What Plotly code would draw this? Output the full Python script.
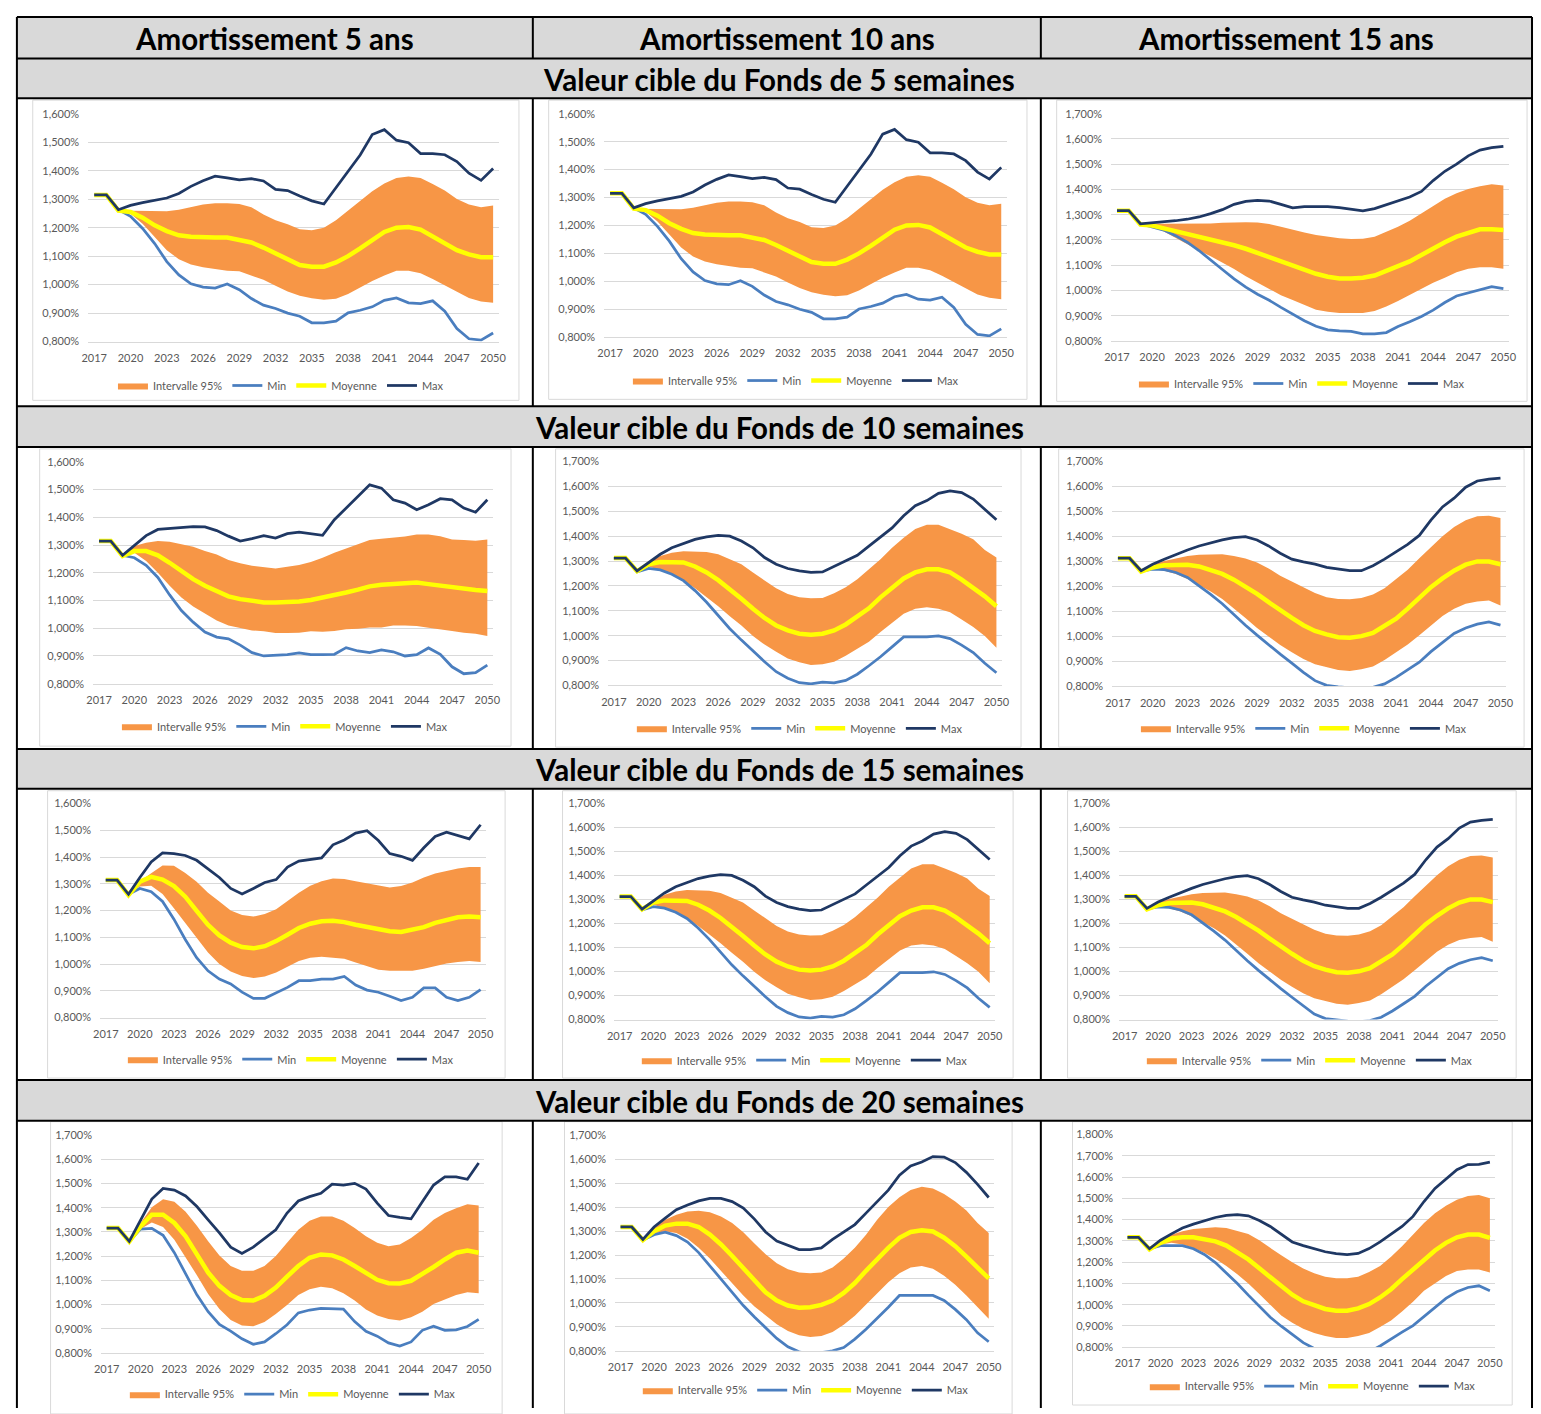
import plotly.graph_objects as go

W, H = 1541, 1414

# ---------------------------------------------------------------- data
YEARS = list(range(2017, 2051))
BAND_YEARS = YEARS[2:]          # the 95% interval starts in 2019
X_TICKS = YEARS[::3]

COLUMN_TITLES = ["Amortissement 5 ans", "Amortissement 10 ans", "Amortissement 15 ans"]
ROW_TITLES = [
    "Valeur cible du Fonds de 5 semaines",
    "Valeur cible du Fonds de 10 semaines",
    "Valeur cible du Fonds de 15 semaines",
    "Valeur cible du Fonds de 20 semaines",
]
SERIES_NAMES = ["Intervalle 95%", "Min", "Moyenne", "Max"]

# 5 semaines / 5 ans and 10 ans
A_MAX = [1.315, 1.315, 1.263, 1.278, 1.288, 1.297, 1.304, 1.320, 1.345, 1.365, 1.381, 1.375, 1.368, 1.372, 1.364, 1.334, 1.330,
         1.311, 1.294, 1.283, 1.341, 1.397, 1.455, 1.527, 1.544, 1.507, 1.498, 1.460, 1.460, 1.456, 1.432, 1.391, 1.366, 1.408]
A_MIN = [1.315, 1.315, 1.263, 1.240, 1.197, 1.144, 1.081, 1.034, 1.003, 0.991, 0.988, 1.002, 0.982, 0.951, 0.928, 0.916, 0.900,
         0.889, 0.866, 0.866, 0.872, 0.901, 0.910, 0.922, 0.945, 0.953, 0.936, 0.933, 0.943, 0.907, 0.846, 0.810, 0.805, 0.830]
A_MEAN = [1.315, 1.315, 1.260, 1.255, 1.235, 1.208, 1.188, 1.173, 1.168, 1.165, 1.165, 1.165, 1.158, 1.148, 1.130, 1.110, 1.089,
          1.069, 1.063, 1.063, 1.078, 1.100, 1.127, 1.158, 1.185, 1.200, 1.202, 1.193, 1.170, 1.144, 1.121, 1.106, 1.096, 1.096]
A_UP = [1.260, 1.260, 1.260, 1.258, 1.258, 1.263, 1.272, 1.281, 1.286, 1.286, 1.283, 1.272, 1.246, 1.226, 1.212, 1.194,
        1.191, 1.200, 1.226, 1.260, 1.295, 1.328, 1.355, 1.374, 1.380, 1.374, 1.353, 1.330, 1.301, 1.281, 1.272, 1.278]
A_LO = [1.260, 1.249, 1.214, 1.168, 1.121, 1.089, 1.071, 1.061, 1.055, 1.049, 1.047, 1.031, 1.017, 0.996, 0.976, 0.961,
        0.952, 0.947, 0.950, 0.967, 0.990, 1.013, 1.032, 1.049, 1.049, 1.040, 1.020, 0.997, 0.976, 0.953, 0.941, 0.936]

# 5 semaines / 15 ans
B_MAX = [1.316, 1.316, 1.264, 1.267, 1.272, 1.276, 1.282, 1.291, 1.304, 1.320, 1.341, 1.353, 1.357, 1.354, 1.341, 1.327, 1.332,
         1.332, 1.332, 1.328, 1.320, 1.315, 1.324, 1.340, 1.354, 1.370, 1.392, 1.435, 1.472, 1.500, 1.533, 1.556, 1.566, 1.571]
B_MIN = [1.316, 1.316, 1.264, 1.252, 1.239, 1.217, 1.191, 1.158, 1.122, 1.083, 1.046, 1.013, 0.985, 0.961, 0.933, 0.906, 0.880,
         0.858, 0.844, 0.840, 0.838, 0.828, 0.828, 0.833, 0.857, 0.876, 0.897, 0.922, 0.952, 0.978, 0.991, 1.004, 1.015, 1.007]
B_MEAN = [1.316, 1.316, 1.261, 1.257, 1.246, 1.235, 1.226, 1.216, 1.204, 1.193, 1.179, 1.165, 1.148, 1.131, 1.114, 1.096, 1.080,
          1.066, 1.054, 1.047, 1.047, 1.050, 1.059, 1.076, 1.096, 1.115, 1.141, 1.167, 1.191, 1.213, 1.229, 1.242, 1.242, 1.239]
B_UP = [1.261, 1.265, 1.264, 1.264, 1.264, 1.264, 1.265, 1.268, 1.270, 1.270, 1.269, 1.263, 1.252, 1.239, 1.229, 1.220,
        1.213, 1.207, 1.204, 1.205, 1.213, 1.233, 1.252, 1.276, 1.304, 1.334, 1.363, 1.385, 1.402, 1.413, 1.421, 1.416]
B_LO = [1.261, 1.252, 1.233, 1.207, 1.183, 1.158, 1.135, 1.111, 1.085, 1.056, 1.030, 1.007, 0.981, 0.962, 0.942, 0.923,
        0.915, 0.911, 0.911, 0.911, 0.918, 0.936, 0.958, 0.982, 1.008, 1.030, 1.050, 1.072, 1.086, 1.092, 1.092, 1.086]

# 10 semaines / 5 ans
C_MAX = [1.314, 1.314, 1.263, 1.298, 1.334, 1.356, 1.359, 1.364, 1.366, 1.365, 1.352, 1.332, 1.314, 1.323, 1.334, 1.325, 1.341,
         1.346, 1.341, 1.335, 1.391, 1.433, 1.475, 1.517, 1.505, 1.463, 1.451, 1.427, 1.445, 1.467, 1.463, 1.433, 1.418, 1.463]
C_MIN = [1.314, 1.314, 1.263, 1.254, 1.227, 1.183, 1.120, 1.064, 1.022, 0.986, 0.968, 0.962, 0.939, 0.912, 0.900, 0.903, 0.905,
         0.911, 0.905, 0.905, 0.906, 0.930, 0.918, 0.912, 0.922, 0.915, 0.900, 0.905, 0.929, 0.906, 0.861, 0.836, 0.840, 0.867]
C_MEAN = [1.314, 1.314, 1.260, 1.278, 1.278, 1.263, 1.236, 1.207, 1.177, 1.153, 1.132, 1.115, 1.105, 1.097, 1.093, 1.093, 1.093,
          1.096, 1.102, 1.110, 1.117, 1.129, 1.139, 1.151, 1.157, 1.161, 1.165, 1.165, 1.159, 1.153, 1.148, 1.144, 1.138, 1.134]
C_UP = [1.260, 1.296, 1.308, 1.314, 1.312, 1.302, 1.294, 1.278, 1.266, 1.246, 1.234, 1.225, 1.219, 1.215, 1.222, 1.228,
        1.239, 1.254, 1.272, 1.287, 1.302, 1.318, 1.323, 1.326, 1.331, 1.338, 1.338, 1.332, 1.320, 1.318, 1.315, 1.320]
C_LO = [1.260, 1.272, 1.242, 1.200, 1.153, 1.111, 1.078, 1.052, 1.028, 1.010, 1.000, 0.992, 0.989, 0.983, 0.983, 0.984,
        0.989, 0.987, 0.990, 0.996, 0.998, 1.003, 1.003, 1.010, 1.010, 1.008, 1.002, 0.997, 0.990, 0.984, 0.980, 0.972]

# 10 and 15 semaines / 10 ans
D_MAX = [1.312, 1.312, 1.260, 1.294, 1.327, 1.353, 1.371, 1.387, 1.397, 1.403, 1.400, 1.380, 1.353, 1.314, 1.287, 1.270, 1.260,
         1.254, 1.256, 1.278, 1.300, 1.323, 1.360, 1.397, 1.433, 1.482, 1.522, 1.543, 1.572, 1.582, 1.575, 1.549, 1.509, 1.466]
D_MIN = [1.312, 1.312, 1.256, 1.270, 1.264, 1.247, 1.221, 1.181, 1.134, 1.081, 1.028, 0.982, 0.938, 0.895, 0.855, 0.829, 0.811,
         0.806, 0.813, 0.810, 0.820, 0.845, 0.879, 0.915, 0.955, 0.995, 0.995, 0.995, 0.999, 0.988, 0.962, 0.932, 0.889, 0.851]
D_MEAN = [1.312, 1.312, 1.259, 1.287, 1.296, 1.296, 1.294, 1.278, 1.254, 1.223, 1.187, 1.148, 1.108, 1.071, 1.041, 1.021, 1.008,
          1.004, 1.008, 1.021, 1.045, 1.075, 1.110, 1.154, 1.194, 1.230, 1.254, 1.267, 1.267, 1.254, 1.225, 1.194, 1.158, 1.118]
D_UP = [1.259, 1.294, 1.320, 1.333, 1.339, 1.339, 1.336, 1.327, 1.307, 1.287, 1.254, 1.221, 1.190, 1.167, 1.154, 1.150,
        1.151, 1.170, 1.194, 1.227, 1.267, 1.307, 1.353, 1.393, 1.429, 1.446, 1.446, 1.429, 1.410, 1.387, 1.344, 1.314]
D_LO = [1.259, 1.278, 1.264, 1.247, 1.221, 1.190, 1.154, 1.118, 1.078, 1.041, 0.999, 0.964, 0.935, 0.908, 0.893, 0.882,
        0.885, 0.895, 0.919, 0.946, 0.975, 1.015, 1.052, 1.088, 1.108, 1.114, 1.108, 1.094, 1.065, 1.035, 0.999, 0.951]

# 10 and 15 semaines / 15 ans
E_MAX = [1.313, 1.313, 1.263, 1.289, 1.309, 1.329, 1.346, 1.362, 1.375, 1.386, 1.395, 1.399, 1.386, 1.362, 1.333, 1.309, 1.298,
         1.289, 1.276, 1.269, 1.263, 1.263, 1.283, 1.309, 1.338, 1.368, 1.404, 1.465, 1.518, 1.553, 1.597, 1.622, 1.629, 1.633]
E_MIN = [1.313, 1.313, 1.261, 1.269, 1.267, 1.256, 1.236, 1.203, 1.168, 1.131, 1.087, 1.045, 1.005, 0.966, 0.929, 0.893, 0.856,
         0.823, 0.804, 0.798, 0.794, 0.791, 0.796, 0.810, 0.836, 0.866, 0.897, 0.939, 0.976, 1.012, 1.034, 1.049, 1.058, 1.045]
E_MEAN = [1.313, 1.313, 1.259, 1.276, 1.285, 1.287, 1.287, 1.280, 1.267, 1.250, 1.227, 1.201, 1.170, 1.137, 1.104, 1.074, 1.045,
          1.022, 1.008, 0.997, 0.995, 1.001, 1.014, 1.041, 1.071, 1.111, 1.153, 1.197, 1.232, 1.263, 1.287, 1.300, 1.300, 1.289]
E_UP = [1.259, 1.287, 1.302, 1.313, 1.322, 1.327, 1.329, 1.329, 1.322, 1.312, 1.296, 1.272, 1.243, 1.219, 1.197, 1.174,
        1.157, 1.150, 1.149, 1.154, 1.168, 1.193, 1.230, 1.267, 1.313, 1.359, 1.401, 1.438, 1.465, 1.481, 1.483, 1.474]
E_LO = [1.259, 1.272, 1.263, 1.250, 1.230, 1.206, 1.180, 1.150, 1.113, 1.074, 1.034, 0.999, 0.966, 0.937, 0.910, 0.889,
        0.876, 0.866, 0.862, 0.869, 0.880, 0.906, 0.937, 0.968, 1.005, 1.045, 1.082, 1.111, 1.131, 1.140, 1.144, 1.124]

# 15 semaines / 5 ans
F_MAX = [1.314, 1.314, 1.261, 1.324, 1.382, 1.416, 1.413, 1.406, 1.388, 1.357, 1.324, 1.283, 1.262, 1.283, 1.305, 1.316, 1.363,
         1.385, 1.390, 1.397, 1.446, 1.464, 1.490, 1.499, 1.462, 1.413, 1.403, 1.388, 1.435, 1.477, 1.493, 1.480, 1.468, 1.521]
F_MIN = [1.314, 1.314, 1.261, 1.283, 1.271, 1.234, 1.168, 1.092, 1.024, 0.975, 0.944, 0.926, 0.895, 0.872, 0.872, 0.892, 0.913,
         0.938, 0.938, 0.944, 0.944, 0.954, 0.922, 0.903, 0.895, 0.880, 0.864, 0.876, 0.911, 0.911, 0.876, 0.864, 0.876, 0.905]
F_MEAN = [1.314, 1.314, 1.258, 1.308, 1.326, 1.316, 1.292, 1.252, 1.199, 1.147, 1.107, 1.080, 1.064, 1.059, 1.067, 1.086, 1.110,
          1.135, 1.151, 1.160, 1.162, 1.157, 1.147, 1.138, 1.129, 1.123, 1.120, 1.127, 1.138, 1.154, 1.166, 1.175, 1.178, 1.175]
F_UP = [1.258, 1.310, 1.340, 1.369, 1.368, 1.341, 1.308, 1.267, 1.234, 1.200, 1.184, 1.178, 1.187, 1.205, 1.236, 1.267,
        1.293, 1.310, 1.320, 1.318, 1.310, 1.302, 1.292, 1.286, 1.292, 1.305, 1.324, 1.339, 1.348, 1.357, 1.363, 1.363]
F_LO = [1.258, 1.290, 1.293, 1.262, 1.209, 1.154, 1.098, 1.043, 1.000, 0.972, 0.956, 0.948, 0.954, 0.969, 0.990, 1.012,
        1.024, 1.028, 1.024, 1.020, 1.006, 0.993, 0.979, 0.975, 0.975, 0.975, 0.983, 0.993, 1.002, 1.008, 1.012, 1.008]

# 20 semaines / 5 ans
G_MAX = [1.316, 1.316, 1.261, 1.350, 1.436, 1.480, 1.473, 1.449, 1.405, 1.350, 1.296, 1.237, 1.211, 1.237, 1.275, 1.309, 1.378,
         1.428, 1.446, 1.460, 1.498, 1.494, 1.501, 1.477, 1.419, 1.368, 1.360, 1.354, 1.425, 1.494, 1.528, 1.528, 1.518, 1.585]
G_MIN = [1.316, 1.316, 1.261, 1.312, 1.315, 1.286, 1.214, 1.125, 1.040, 0.970, 0.917, 0.890, 0.858, 0.835, 0.845, 0.879, 0.916,
         0.965, 0.977, 0.984, 0.981, 0.981, 0.929, 0.889, 0.869, 0.841, 0.828, 0.845, 0.893, 0.910, 0.893, 0.895, 0.909, 0.938]
G_MEAN = [1.316, 1.316, 1.260, 1.323, 1.371, 1.371, 1.337, 1.282, 1.207, 1.132, 1.077, 1.039, 1.018, 1.016, 1.036, 1.070, 1.115,
          1.159, 1.193, 1.207, 1.203, 1.186, 1.159, 1.128, 1.102, 1.088, 1.087, 1.098, 1.125, 1.155, 1.186, 1.214, 1.223, 1.214]
G_UP = [1.260, 1.337, 1.402, 1.435, 1.425, 1.384, 1.326, 1.261, 1.203, 1.159, 1.139, 1.139, 1.159, 1.200, 1.255, 1.309,
        1.346, 1.364, 1.364, 1.346, 1.316, 1.282, 1.255, 1.241, 1.248, 1.275, 1.309, 1.350, 1.378, 1.398, 1.414, 1.409]
G_LO = [1.260, 1.312, 1.339, 1.320, 1.268, 1.197, 1.121, 1.043, 0.981, 0.936, 0.913, 0.910, 0.927, 0.961, 0.998, 1.039,
        1.063, 1.073, 1.067, 1.046, 1.016, 0.979, 0.954, 0.940, 0.934, 0.947, 0.970, 1.002, 1.022, 1.039, 1.050, 1.046]

# 20 semaines / 10 ans
H_MAX = [1.317, 1.317, 1.265, 1.317, 1.354, 1.389, 1.409, 1.426, 1.436, 1.436, 1.423, 1.396, 1.350, 1.296, 1.258, 1.240, 1.223,
         1.223, 1.230, 1.265, 1.296, 1.327, 1.375, 1.423, 1.471, 1.533, 1.572, 1.588, 1.611, 1.609, 1.586, 1.545, 1.495, 1.440]
H_MIN = [1.317, 1.317, 1.262, 1.285, 1.295, 1.281, 1.254, 1.210, 1.155, 1.100, 1.042, 0.989, 0.941, 0.896, 0.852, 0.817, 0.796,
         0.785, 0.792, 0.800, 0.814, 0.849, 0.890, 0.934, 0.982, 1.031, 1.031, 1.031, 1.031, 1.010, 0.973, 0.930, 0.875, 0.838]
H_MEAN = [1.317, 1.317, 1.262, 1.299, 1.323, 1.331, 1.331, 1.317, 1.285, 1.244, 1.196, 1.144, 1.090, 1.044, 1.010, 0.989, 0.980,
          0.982, 0.992, 1.010, 1.042, 1.083, 1.134, 1.185, 1.230, 1.272, 1.296, 1.303, 1.298, 1.272, 1.237, 1.193, 1.148, 1.102]
H_UP = [1.262, 1.313, 1.347, 1.368, 1.382, 1.385, 1.379, 1.361, 1.334, 1.295, 1.248, 1.203, 1.166, 1.141, 1.127, 1.124,
        1.127, 1.148, 1.185, 1.230, 1.285, 1.347, 1.400, 1.441, 1.471, 1.485, 1.478, 1.455, 1.423, 1.386, 1.334, 1.292]
H_LO = [1.262, 1.290, 1.299, 1.292, 1.268, 1.230, 1.185, 1.134, 1.079, 1.031, 0.985, 0.946, 0.911, 0.883, 0.865, 0.858,
        0.862, 0.879, 0.909, 0.946, 0.992, 1.042, 1.086, 1.124, 1.148, 1.154, 1.143, 1.113, 1.076, 1.031, 0.982, 0.934]

# 20 semaines / 15 ans
I_MAX = [1.317, 1.317, 1.263, 1.303, 1.333, 1.361, 1.379, 1.396, 1.410, 1.420, 1.423, 1.418, 1.396, 1.368, 1.330, 1.295, 1.278,
         1.263, 1.249, 1.240, 1.236, 1.241, 1.264, 1.295, 1.333, 1.368, 1.415, 1.485, 1.547, 1.589, 1.635, 1.659, 1.660, 1.670]
I_MIN = [1.317, 1.317, 1.263, 1.278, 1.278, 1.278, 1.263, 1.236, 1.198, 1.151, 1.100, 1.045, 0.993, 0.941, 0.899, 0.859, 0.822,
         0.794, 0.771, 0.763, 0.755, 0.760, 0.778, 0.806, 0.840, 0.871, 0.902, 0.946, 0.988, 1.030, 1.061, 1.081, 1.089, 1.066]
I_MEAN = [1.317, 1.317, 1.260, 1.291, 1.311, 1.317, 1.317, 1.309, 1.298, 1.278, 1.247, 1.213, 1.171, 1.128, 1.084, 1.047, 1.016,
          0.996, 0.980, 0.972, 0.972, 0.983, 1.003, 1.034, 1.073, 1.120, 1.166, 1.213, 1.255, 1.291, 1.317, 1.330, 1.330, 1.314]
I_UP = [1.260, 1.306, 1.329, 1.345, 1.356, 1.361, 1.364, 1.361, 1.348, 1.333, 1.303, 1.267, 1.232, 1.200, 1.170, 1.148,
        1.132, 1.125, 1.125, 1.132, 1.154, 1.182, 1.225, 1.275, 1.329, 1.384, 1.430, 1.465, 1.493, 1.511, 1.516, 1.500]
I_LO = [1.260, 1.283, 1.291, 1.283, 1.267, 1.244, 1.216, 1.182, 1.143, 1.100, 1.050, 0.999, 0.949, 0.915, 0.887, 0.867,
        0.853, 0.843, 0.843, 0.853, 0.867, 0.895, 0.926, 0.968, 1.014, 1.066, 1.101, 1.135, 1.159, 1.166, 1.166, 1.151]

Y_MAX = [1.6, 1.6, 1.7, 1.6, 1.7, 1.7, 1.6, 1.7, 1.7, 1.7, 1.7, 1.8]

PANEL_SERIES = [
    (A_LO, A_UP, A_MIN, A_MEAN, A_MAX), (A_LO, A_UP, A_MIN, A_MEAN, A_MAX), (B_LO, B_UP, B_MIN, B_MEAN, B_MAX),
    (C_LO, C_UP, C_MIN, C_MEAN, C_MAX), (D_LO, D_UP, D_MIN, D_MEAN, D_MAX), (E_LO, E_UP, E_MIN, E_MEAN, E_MAX),
    (F_LO, F_UP, F_MIN, F_MEAN, F_MAX), (D_LO, D_UP, D_MIN, D_MEAN, D_MAX), (E_LO, E_UP, E_MIN, E_MEAN, E_MAX),
    (G_LO, G_UP, G_MIN, G_MEAN, G_MAX), (H_LO, H_UP, H_MIN, H_MEAN, H_MAX), (I_LO, I_UP, I_MIN, I_MEAN, I_MAX),
]

# ---------------------------------------------------------------- layout (pixels)
# plot area: x_left, x_right, y_top, y_bottom ; chart frame: x0, y0, x1, y1 ; legend anchor: x, y
PLOT_BOX = [
    (82, 497, 107.7, 337.7), (603, 1010, 107.7, 333.3), (1115, 1517, 107.7, 337),
    (87, 491, 459, 683), (607, 1005, 458.7, 684.7), (1116, 1514, 458.7, 685.7),
    (94, 484, 804, 1020), (613, 998, 803.7, 1022), (1123, 1506, 803.7, 1022),
    (95, 482, 1138.7, 1358.3), (614, 997, 1138.7, 1356.3), (1126, 1503, 1138, 1352.7),
]
FRAME = [
    (26, 94, 517, 397), (547, 94, 1030, 396), (1060, 94, 1535, 398),
    (33, 446, 509, 746), (554, 446, 1024, 747), (1062, 446, 1532, 747),
    (41, 791, 503, 1081), (561, 791, 1016, 1081), (1071, 791, 1524, 1081),
    (44, 1125, 500, 1420), (563, 1125, 1015, 1420), (1076, 1125, 1520, 1411),
]
LEGEND_POS = [
    (107, 382), (627, 377), (1138, 380),
    (111, 726), (631, 728), (1140, 728),
    (117, 1062), (636, 1063), (1146, 1063),
    (119, 1400), (637, 1396), (1149, 1392),
]

ORANGE = "#f79646"
MIN_BLUE = "#4a7ebf"
MEAN_YELLOW = "#ffff00"
MAX_NAVY = "#1f3864"
GRID = "#d9d9d9"
TEXT = "#595959"
HEADER_BG = "#d9d9d9"
FONT = "Lato, 'Open Sans', sans-serif"


def fx(px):
    return px / W


def fy(py):
    return 1 - py / H


fig = go.Figure()
layout = {}

for i, (series, ymax) in enumerate(zip(PANEL_SERIES, Y_MAX)):
    n = "" if i == 0 else str(i + 1)
    xa, ya, lg = "x" + n, "y" + n, "legend" + n
    lo, up, mn, mean, mx = series

    fig.add_trace(go.Scatter(x=BAND_YEARS, y=lo, mode="lines", line=dict(width=0, color=ORANGE),
                             showlegend=False, hoverinfo="skip", xaxis=xa, yaxis=ya))
    fig.add_trace(go.Scatter(x=BAND_YEARS, y=up, mode="lines", fill="tonexty", fillcolor=ORANGE,
                             line=dict(width=0, color=ORANGE), name=SERIES_NAMES[0],
                             xaxis=xa, yaxis=ya, legend=lg))
    fig.add_trace(go.Scatter(x=YEARS, y=mn, mode="lines", line=dict(width=2.75, color=MIN_BLUE),
                             name=SERIES_NAMES[1], xaxis=xa, yaxis=ya, legend=lg))
    fig.add_trace(go.Scatter(x=YEARS, y=mean, mode="lines", line=dict(width=4.5, color=MEAN_YELLOW),
                             name=SERIES_NAMES[2], xaxis=xa, yaxis=ya, legend=lg))
    fig.add_trace(go.Scatter(x=YEARS, y=mx, mode="lines", line=dict(width=2.75, color=MAX_NAVY),
                             name=SERIES_NAMES[3], xaxis=xa, yaxis=ya, legend=lg))

    x0, x1, yt, yb = PLOT_BOX[i]
    layout["xaxis" + n] = dict(
        domain=[fx(x0), fx(x1)], anchor=ya, range=[YEARS[0] - 0.5, YEARS[-1] + 0.5],
        tickmode="array", tickvals=X_TICKS, ticktext=[str(v) for v in X_TICKS],
        showgrid=False, zeroline=False, showline=True, linecolor=GRID, linewidth=1,
        ticks="", ticklabelstandoff=6, tickfont=dict(size=11, color=TEXT, family=FONT), fixedrange=True,
    )
    layout["yaxis" + n] = dict(
        domain=[fy(yb), fy(yt)], anchor=xa, range=[0.8, ymax], tick0=0.8, dtick=0.1,
        tickformat=".3f", ticksuffix="%", showgrid=True, gridcolor=GRID, gridwidth=1,
        zeroline=False, showline=False, ticks="", ticklabelstandoff=8,
        tickfont=dict(size=11, color=TEXT, family=FONT), fixedrange=True,
    )
    lx, ly = LEGEND_POS[i]
    layout[lg] = dict(
        x=fx(lx), y=fy(ly), xanchor="left", yanchor="middle", orientation="h",
        font=dict(size=11, color=TEXT, family=FONT), bgcolor="rgba(0,0,0,0)",
        itemwidth=30, traceorder="normal", tracegroupgap=0,
    )

# ---------------------------------------------------------------- table frame
shapes = []
COL_EDGES = [10, 531, 1044, 1540]
HEADER_BANDS = [(10, 52), (52, 92), (403, 444), (749, 789), (1083, 1124)]
CHART_ROWS = [(92, 403), (444, 749), (789, 1083), (1124, 1414)]

for y0, y1 in HEADER_BANDS:
    shapes.append(dict(type="rect", xref="paper", yref="paper", x0=fx(10), x1=fx(1540), y0=fy(y1), y1=fy(y0),
                       fillcolor=HEADER_BG, line=dict(width=0), layer="below"))
for (x0, y0, x1, y1) in FRAME:
    shapes.append(dict(type="rect", xref="paper", yref="paper", x0=fx(x0), x1=fx(x1), y0=fy(y1), y1=fy(y0),
                       fillcolor="white", line=dict(width=1, color=GRID), layer="below"))

line_style = dict(color="black", width=2)
for y in [10, 52, 92, 403, 444, 749, 789, 1083, 1124]:
    shapes.append(dict(type="line", xref="paper", yref="paper", x0=fx(10), x1=fx(1540), y0=fy(y), y1=fy(y),
                       line=line_style))
for x in [10, 1540]:
    shapes.append(dict(type="line", xref="paper", yref="paper", x0=fx(x), x1=fx(x), y0=fy(10), y1=fy(1414),
                       line=line_style))
for x in [531, 1044]:
    for y0, y1 in [(10, 52)] + CHART_ROWS:
        shapes.append(dict(type="line", xref="paper", yref="paper", x0=fx(x), x1=fx(x), y0=fy(y0), y1=fy(y1),
                           line=line_style))

annotations = []
for c, title in enumerate(COLUMN_TITLES):
    annotations.append(dict(text="<b>%s</b>" % title, xref="paper", yref="paper",
                            x=fx((COL_EDGES[c] + COL_EDGES[c + 1]) / 2), y=fy(32),
                            xanchor="center", yanchor="middle", showarrow=False,
                            font=dict(size=29.5, color="black", family=FONT)))
for (y0, y1), title in zip(HEADER_BANDS[1:], ROW_TITLES):
    annotations.append(dict(text="<b>%s</b>" % title, xref="paper", yref="paper",
                            x=fx(780), y=fy((y0 + y1) / 2 + 1),
                            xanchor="center", yanchor="middle", showarrow=False,
                            font=dict(size=29.5, color="black", family=FONT)))

fig.update_layout(
    width=W, height=H, margin=dict(l=0, r=0, t=0, b=0, pad=0),
    paper_bgcolor="white", plot_bgcolor="white", separators=", ",
    font=dict(family=FONT, color=TEXT), shapes=shapes, annotations=annotations,
    **layout,
)

fig.write_html("out.html")
